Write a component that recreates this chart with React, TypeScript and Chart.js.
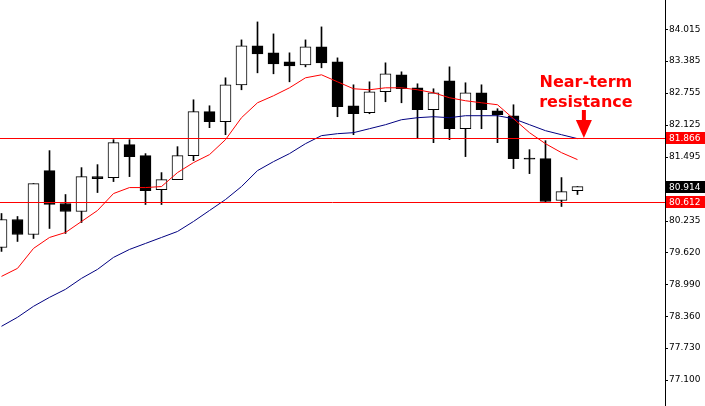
import React, { useEffect, useRef } from "react";
import { Chart, registerables } from "chart.js";

Chart.register(...registerables);

// ---- data ----
const opens = [79.714, 80.265, 79.970, 81.228, 80.580, 80.422, 81.110, 81.091, 81.740, 81.523, 80.855, 81.052, 81.523, 82.389, 82.192, 82.919, 83.686, 83.549, 83.372, 83.313, 83.667, 83.372, 82.506, 82.369, 82.782, 83.116, 82.860, 82.428, 82.998, 82.054, 82.762, 82.408, 82.310, 81.464, 81.464, 80.639, 80.835];
const highs = [80.383, 80.324, 80.973, 81.622, 80.757, 81.287, 81.346, 81.838, 81.838, 81.563, 81.189, 81.700, 82.624, 82.506, 83.057, 83.804, 84.158, 83.922, 83.549, 83.804, 84.060, 83.450, 82.919, 82.978, 83.352, 83.175, 82.939, 82.841, 83.273, 82.959, 82.919, 82.448, 82.526, 81.641, 81.818, 81.091, 80.914];
const lows = [79.636, 79.832, 79.891, 80.088, 79.990, 80.206, 80.796, 81.012, 81.110, 80.560, 80.560, 81.052, 81.425, 82.074, 81.936, 82.821, 83.155, 83.136, 82.978, 83.273, 83.254, 82.290, 81.936, 82.349, 82.585, 82.565, 81.858, 81.779, 81.838, 81.504, 82.054, 81.779, 81.268, 81.169, 80.599, 80.521, 80.757];
const closes = [80.265, 79.970, 80.973, 80.560, 80.422, 81.110, 81.071, 81.779, 81.504, 80.835, 81.052, 81.523, 82.389, 82.192, 82.919, 83.686, 83.529, 83.332, 83.293, 83.667, 83.352, 82.487, 82.349, 82.782, 83.136, 82.841, 82.428, 82.762, 82.054, 82.762, 82.428, 82.330, 81.464, 81.455, 80.619, 80.815, 80.914];
const maFast = [79.144, 79.302, 79.695, 79.911, 80.009, 80.226, 80.442, 80.776, 80.894, 80.894, 80.914, 81.189, 81.386, 81.543, 81.838, 82.271, 82.565, 82.703, 82.860, 83.057, 83.116, 82.978, 82.841, 82.821, 82.860, 82.860, 82.821, 82.762, 82.664, 82.605, 82.565, 82.526, 82.251, 81.976, 81.759, 81.582, 81.445];
const maSlow = [78.161, 78.338, 78.554, 78.731, 78.889, 79.105, 79.282, 79.518, 79.675, 79.793, 79.911, 80.029, 80.226, 80.442, 80.658, 80.914, 81.228, 81.405, 81.563, 81.759, 81.917, 81.956, 81.976, 82.054, 82.133, 82.231, 82.271, 82.290, 82.271, 82.310, 82.310, 82.310, 82.251, 82.133, 82.015, 81.936, 81.858];
const yTickValues = [84.015, 83.385, 82.755, 82.125, 81.495, 80.235, 79.62, 78.99, 78.36, 77.73, 77.1];
const levelValues = [81.866, 80.612];
const lastPrice = 80.914;
const annotationText = ["Near-term", "resistance"];
const annotationIndex = 36.4;

const Y_MIN = 76.59;
const Y_MAX = 84.59;
const X_MIN = -0.094;
const X_MAX = 41.47;

const overlayPlugin = {
  id: "overlay",
  afterDatasetsDraw(chart: any) {
    const { ctx, chartArea } = chart;
    const y = chart.scales.y;
    ctx.save();
    ctx.strokeStyle = "#ff0000";
    ctx.lineWidth = 1;
    levelValues.forEach((v) => {
      const py = Math.round(y.getPixelForValue(v)) + 0.5;
      ctx.beginPath();
      ctx.moveTo(chartArea.left, py);
      ctx.lineTo(chartArea.right, py);
      ctx.stroke();
    });
    // annotation
    const x = chart.scales.x;
    const ax = x.getPixelForValue(annotationIndex);
    const tip = Math.round(y.getPixelForValue(levelValues[0]));
    ctx.fillStyle = "#ff0000";
    ctx.font = "bold 16px 'DejaVu Sans'";
    ctx.textAlign = "center";
    ctx.textBaseline = "alphabetic";
    ctx.fillText(annotationText[0], ax + 2, tip - 51);
    ctx.fillText(annotationText[1], ax + 2, tip - 31);
    ctx.fillRect(ax - 2, tip - 28, 4, 12);
    ctx.beginPath();
    ctx.moveTo(ax - 8, tip - 18);
    ctx.lineTo(ax + 8, tip - 18);
    ctx.lineTo(ax, tip);
    ctx.closePath();
    ctx.fill();
    ctx.restore();
  },
  afterDraw(chart: any) {
    const { ctx, chartArea, width } = chart;
    const y = chart.scales.y;
    ctx.save();
    ctx.font = "9px 'DejaVu Sans'";
    ctx.textAlign = "left";
    ctx.textBaseline = "middle";
    const boxes = [
      { v: levelValues[0], bg: "#ff0000" },
      { v: lastPrice, bg: "#000000" },
      { v: levelValues[1], bg: "#ff0000" },
    ];
    boxes.forEach((b) => {
      const py = Math.round(y.getPixelForValue(b.v));
      ctx.fillStyle = b.bg;
      ctx.fillRect(chartArea.right + 1, py - 6, width - chartArea.right - 1, 12);
      ctx.fillStyle = "#ffffff";
      ctx.fillText(b.v.toFixed(3), chartArea.right + 4, py + 0.5);
    });
    ctx.restore();
  },
};

export default function App() {
  const ref = useRef<HTMLCanvasElement>(null);
  useEffect(() => {
    if (!ref.current) return;
    const bodies = opens.map((o, i) => ({ x: i, y: [o, closes[i]] }));
    const wicks = lows.map((l, i) => ({ x: i, y: [l, highs[i]] }));
    const chart = new Chart(ref.current, {
      type: "bar",
      data: {
        datasets: [
          {
            type: "line",
            data: maFast.map((v, i) => ({ x: i, y: v })),
            borderColor: "#ff0000",
            borderWidth: 1,
            pointRadius: 0,
            tension: 0,
            order: 0,
          } as any,
          {
            type: "line",
            data: maSlow.map((v, i) => ({ x: i, y: v })),
            borderColor: "#000080",
            borderWidth: 1,
            pointRadius: 0,
            tension: 0,
            order: 0,
          } as any,
          {
            type: "bar",
            data: bodies as any,
            backgroundColor: opens.map((o, i) => (closes[i] >= o ? "#ffffff" : "#000000")),
            borderColor: "#000000",
            borderWidth: 1,
            borderSkipped: false,
            barThickness: 11,
            minBarLength: 1,
            grouped: false,
            order: 1,
          } as any,
          {
            type: "bar",
            data: wicks as any,
            backgroundColor: "#000000",
            borderWidth: 0,
            barThickness: 1,
            grouped: false,
            order: 2,
          } as any,
        ],
      },
      options: {
        animation: false,
        responsive: false,
        layout: { padding: 0 },
        plugins: { legend: { display: false }, tooltip: { enabled: false } },
        scales: {
          x: { type: "linear", min: X_MIN, max: X_MAX, display: false, offset: false },
          y: {
            position: "right",
            min: Y_MIN,
            max: Y_MAX,
            afterBuildTicks: (scale: any) => {
              scale.ticks = yTickValues.map((v) => ({ value: v }));
            },
            afterFit: (scale: any) => {
              scale.width = 40;
              scale.paddingTop = 0;
              scale.paddingBottom = 0;
            },
            ticks: {
              color: "#000000",
              font: { family: "'DejaVu Sans'", size: 9 },
              padding: 1,
              autoSkip: false,
              callback: (v: any) => Number(v).toFixed(3),
            },
            grid: { drawOnChartArea: false, drawTicks: true, tickLength: 3, color: "#000000" },
            border: { display: true, color: "#000000", width: 1 },
          },
        },
      } as any,
      plugins: [overlayPlugin],
    });
    return () => chart.destroy();
  }, []);
  return (
    <div style={{ position: "fixed", left: 0, top: 0, width: 705, height: 406, background: "#ffffff" }}>
      <canvas ref={ref} width={705} height={406} />
    </div>
  );
}
